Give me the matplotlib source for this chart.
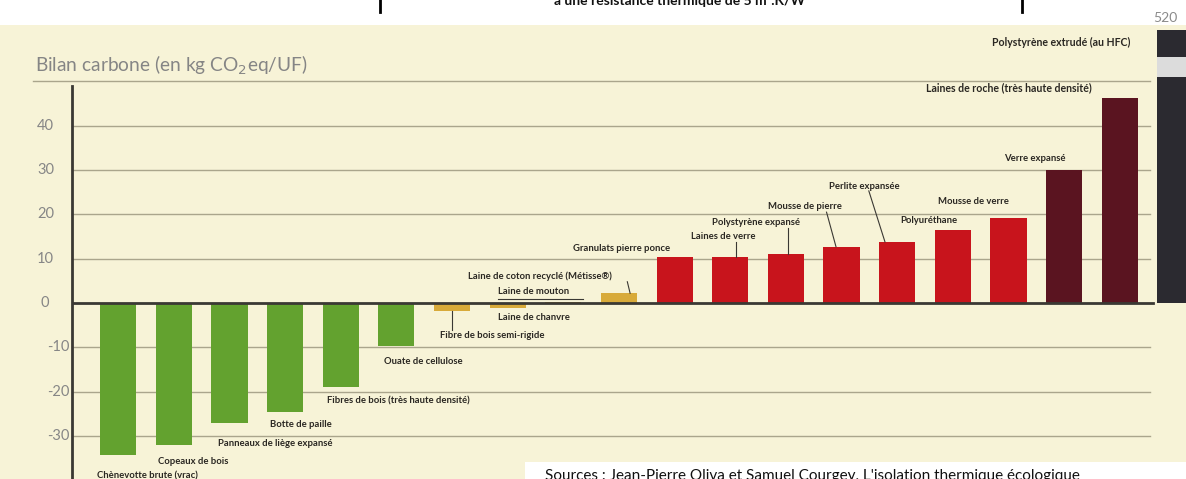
import matplotlib.pyplot as plt
from matplotlib.patches import Rectangle

# Bilan carbone des isolants (kg CO2eq/UF)
materials = [
    'Chènevotte brute (vrac)', 'Copeaux de bois', 'Panneaux de liège expansé',
    'Botte de paille', 'Fibres de bois (très haute densité)', 'Ouate de cellulose',
    'Fibre de bois semi-rigide', 'Laine de chanvre', 'Laine de mouton',
    'Laine de coton recyclé (Métisse®)', 'Granulats pierre ponce', 'Laines de verre',
    'Polystyrène expansé', 'Mousse de pierre', 'Perlite expansée', 'Polyuréthane',
    'Mousse de verre', 'Verre expansé', 'Laines de roche (très haute densité)',
    'Polystyrène extrudé (au HFC)',
]
values = [-34.3, -32.0, -27.0, -24.5, -19.0, -9.7,
          -1.8, -1.1, 0.3, 2.2, 10.4, 10.3,
          11.0, 12.7, 13.8, 16.5, 19.2, 30.0, 46.3, 520]
groups = ['bio'] * 6 + ['mix'] * 4 + ['min'] * 7 + ['heavy'] * 2 + ['xps']
yticks = [40, 30, 20, 10, 0, -10, -20, -30]

colors = {'bio': '#63a22f', 'mix': '#d8aa3a', 'min': '#c8141c',
          'heavy': '#5a1420', 'xps': '#2b2a30'}

# label anchor (x, y) in data units, leader line (x0, y0, x1, y1)
label_pos = [(-0.38, -39.0), (0.72, -35.7), (1.80, -31.6), (2.73, -27.3),
             (3.76, -22.1), (4.77, -13.1), (5.79, -7.4), (6.82, -3.2),
             (6.82, 2.5), (6.29, 6.1), (8.18, 12.4), (10.29, 14.9),
             (10.68, 18.1), (11.67, 21.7), (12.77, 26.4), (14.06, 18.7),
             (14.73, 22.8), (15.92, 32.7), (14.51, 48.5), (15.70, 58.7)]
leaders = {6: (6.0, -1.8, 6.0, -6.0),
           8: (6.82, 0.8, 8.35, 0.8),
           9: (9.15, 4.8, 9.2, 2.2),
           11: (11.1, 13.8, 11.1, 10.3),
           12: (12.03, 17.0, 12.03, 11.0),
           13: (12.73, 20.5, 12.9, 12.7),
           14: (13.49, 25.3, 13.78, 13.8)}

W, H = 1186, 479
fig = plt.figure(figsize=(W / 100, H / 100), dpi=100)
fig.patch.set_facecolor('white')
plt.rcParams['font.family'] = ['Lato', 'DejaVu Sans']

# cream page background
fig.add_artist(Rectangle((0, 0), 1, 1 - 25 / H, transform=fig.transFigure,
                         facecolor='#f7f3d7', edgecolor='none', zorder=0))

ax = fig.add_axes([72 / W, 0, 1 - 72 / W, 1 - 30 / H])
ax.set_facecolor('none')
ax.set_xlim(-0.83, 19.19)
ax.set_ylim(-39.7, 61.6)

x = list(range(len(values)))
bar_w = 0.65
ax.bar(x, values, width=bar_w, color=[colors[g] for g in groups], zorder=3)

# axis break on the off-scale bar
ax.add_patch(Rectangle((x[-1] - bar_w / 2, 51.0), bar_w, 4.5,
                       facecolor='#dcdcdc', edgecolor='none', zorder=4))

# gridlines
for g in [50, 40, 30, 20, 10, -10, -20, -30]:
    xmin = -0.035 if g == 50 else 0
    ax.axhline(g, xmin=xmin, xmax=0.968, color='#aaa58c', lw=1.0,
               zorder=1, clip_on=False)
ax.axhline(0, xmin=0, xmax=0.97, color='#3a3833', lw=2.0, zorder=5)

for s in ['top', 'right', 'bottom']:
    ax.spines[s].set_visible(False)
ax.spines['left'].set_bounds(-40, 49)
ax.spines['left'].set_color('#3a3833')
ax.spines['left'].set_linewidth(2)
ax.set_xticks([])
ax.set_yticks([])

# y tick labels drawn as text (original layout is uneven)
axw = ax.get_position().width * W
ytrans = ax.get_yaxis_transform()
for v in yticks:
    if v > 0:
        right_px = 54
    elif v == 0:
        right_px = 49
    else:
        right_px = 69
    ax.text((right_px - 72) / axw, v, str(v), ha='right', va='center',
            fontsize=10.5, color='#868686', transform=ytrans, clip_on=False)

fig.text(35 / W, 1 - 65 / H, 'Bilan carbone (en kg CO$_2$eq/UF)', ha='left',
         va='center', fontsize=13.8, color='#858585')

for i, name in enumerate(materials):
    lx, ly = label_pos[i]
    size = 7.6 if i >= 18 else 6.8
    ax.text(lx, ly, name, ha='left', va='center', fontsize=size,
            fontweight='bold', color='#2a2722', zorder=6, clip_on=False)
    if i in leaders:
        x0, y0, x1, y1 = leaders[i]
        ax.plot([x0, x1], [y0, y1], color='#3a3833', lw=0.8, zorder=6)

ax.text(18.6, 64.3, '520', ha='left', va='center', fontsize=10,
        color='#8a8a8a', clip_on=False)

# cut-off title above the chart
fig.text(680 / W, 1 - 7 / H, 'à une résistance thermique de 5 m².K/W',
         ha='center', va='bottom', fontsize=10, fontweight='bold', color='#111111')
fig.add_artist(plt.Line2D([380 / W, 380 / W], [1, 1 - 12 / H],
                          transform=fig.transFigure, color='black', lw=2))
fig.add_artist(plt.Line2D([1022 / W, 1022 / W], [1, 1 - 12 / H],
                          transform=fig.transFigure, color='black', lw=2))

# cut-off source box at the bottom
fig.add_artist(Rectangle((525 / W, 0), 1, 17 / H, transform=fig.transFigure,
                         facecolor='white', edgecolor='none', zorder=7))
fig.text(545 / W, -4 / H, "Sources : Jean-Pierre Oliva et Samuel Courgey, "
         "L'isolation thermique écologique", ha='left', va='bottom',
         fontsize=11, color='#111111', zorder=8)

fig.savefig('out.png', dpi=100, facecolor=fig.get_facecolor())
